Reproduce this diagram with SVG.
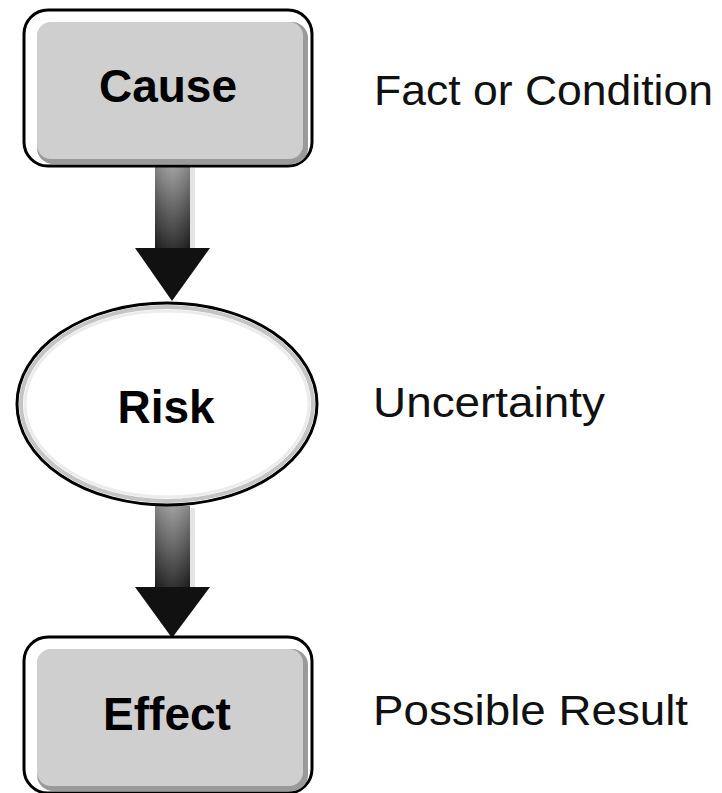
<svg xmlns="http://www.w3.org/2000/svg" width="722" height="793" viewBox="0 0 722 793">
<defs>
<linearGradient id="shaft" x1="0" y1="0" x2="0" y2="1">
<stop offset="0" stop-color="#979797"/>
<stop offset="1" stop-color="#1e1e1e"/>
</linearGradient>
<linearGradient id="shaftH" x1="0" y1="0" x2="1" y2="0">
<stop offset="0" stop-color="#000" stop-opacity="0.15"/>
<stop offset="0.5" stop-color="#fff" stop-opacity="0.08"/>
<stop offset="1" stop-color="#000" stop-opacity="0.15"/>
</linearGradient>
<style>
.outer{fill:#fff;stroke:#000;stroke-width:3}
.shadow{fill:#9a9a9a}
.inner{fill:#cfcfcf}
.nodeText{font-family:"Liberation Sans",Arial,sans-serif;font-weight:bold;font-size:46px;fill:#000;text-anchor:middle}
.label{font-family:"Liberation Sans",Arial,sans-serif;font-size:42px;fill:#111}
.head{fill:#111}
</style>
</defs>
<rect width="722" height="793" fill="#fff"/>
<g id="connectors">
<g id="arrow1">
<rect x="190" y="168" width="5" height="80" fill="#e4e4e4"/>
<rect x="155" y="167" width="35" height="82" fill="url(#shaft)"/>
<rect x="155" y="167" width="35" height="82" fill="url(#shaftH)"/>
<polygon class="head" points="135,248 210,248 172,301"/>
</g>
<g id="arrow2">
<rect x="190" y="508" width="5" height="80" fill="#e4e4e4"/>
<rect x="155" y="506" width="35" height="82" fill="url(#shaft)"/>
<rect x="155" y="506" width="35" height="82" fill="url(#shaftH)"/>
<polygon class="head" points="135,587 210,587 172,638"/>
</g>
</g>
<g id="cause">
<rect class="outer" x="24" y="10" width="288" height="156" rx="24"/>
<rect class="shadow" x="37" y="22" width="271" height="142" rx="16"/>
<rect class="inner" x="37" y="22" width="266" height="137" rx="14"/>
<text class="nodeText" x="168" y="102">Cause</text>
</g>
<g id="risk">
<ellipse cx="167" cy="404" rx="150" ry="101" fill="#fff" stroke="#000" stroke-width="3"/>
<ellipse cx="167" cy="404" rx="146" ry="97" fill="none" stroke="#c4c4c4" stroke-width="4"/>
<ellipse cx="167" cy="404" rx="142" ry="93" fill="none" stroke="#ececec" stroke-width="3"/>
<text class="nodeText" x="166" y="423">Risk</text>
</g>
<g id="effect">
<rect class="outer" x="24" y="637" width="288" height="156" rx="24"/>
<rect class="shadow" x="37" y="649" width="271" height="142" rx="16"/>
<rect class="inner" x="37" y="649" width="266" height="137" rx="14"/>
<text class="nodeText" x="167" y="730">Effect</text>
</g>
<g id="labels">
<text class="label" x="374" y="105" textLength="339" lengthAdjust="spacingAndGlyphs">Fact or Condition</text>
<text class="label" x="373" y="417" textLength="232" lengthAdjust="spacingAndGlyphs">Uncertainty</text>
<text class="label" x="373" y="725" textLength="315" lengthAdjust="spacingAndGlyphs">Possible Result</text>
</g>
</svg>
